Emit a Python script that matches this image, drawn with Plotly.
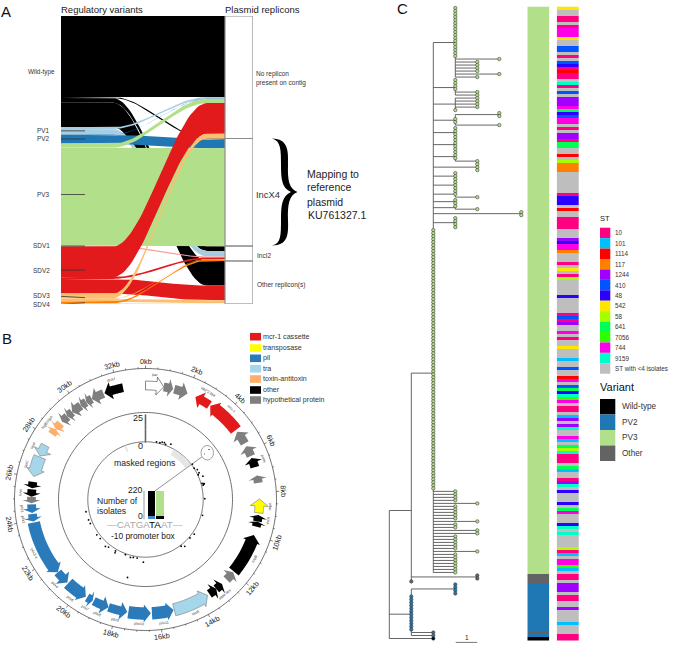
import numpy as np
import plotly.graph_objects as go

W, H = 674, 650
FONT = "Liberation Sans"

# ---------------- PANEL A data ----------------
variants = ["Wild-type", "PV1", "PV2", "PV3", "SDV1", "SDV2", "SDV3", "SDV4"]
variant_colors = ["#000000", "#A6CEE3", "#1F78B4", "#B2DF8A", "#FB9A99", "#E31A1C", "#FDBF6F", "#FF7F00"]
replicons = ["No replicon", "IncX4", "IncI2", "Other"]
flow_wild = [81.0, 1.0, 4.7, 24.5]
flow_pv1 = [1.8, 0, 5.5, 0]
flow_pv2 = [0.3, 8.7, 0, 0]
flow_pv3 = [4.0, 98.0, 0, 0]
flow_sdv1 = [0, 0, 1.0, 0]
flow_sdv2 = [30.7, 0, 1.7, 14.7]
flow_sdv3 = [4.7, 0, 0.5, 3.0]
flow_sdv4 = [0, 0, 1.5, 0.5]
flows = [flow_wild, flow_pv1, flow_pv2, flow_pv3, flow_sdv1, flow_sdv2, flow_sdv3, flow_sdv4]

# ---------------- PANEL B data ----------------
plasmid_kb = 33.3
kb_ticks = list(range(0, 33, 2))
gene_names = ["par", "", "", "PAP2-like", "mcr-1", "", "", "parA", "", "tnpA", "vsrA", "", "topB", "", "trbM-like", "",
              "taxB", "pilx11", "pilx10", "pilx9", "pilx8", "pilx7", "pilx6", "pilx4", "pilx3-4", "pilx2", "pilx1", "",
              "hha", "", "taxC", "tax4", "higB", "higA", "", "", "", "", "", "", "dnaJ"]
gene_start = [0.0, 0.85, 1.35, 2.4, 3.2, 4.95, 5.75, 6.35, 7.2, 8.3, 9.05, 9.35, 10.0, 12.0, 12.75, 13.1,
              13.6, 15.33, 16.4, 17.5, 18.4, 19.2, 19.57, 20.65, 21.3, 23.95, 24.35, 24.8,
              25.1, 25.5, 26.05, 27.05, 28.2, 28.5, 28.95, 29.3, 29.6, 30.1, 30.4, 30.7, 31.35]
gene_end = [0.85, 1.3, 2.0, 3.15, 4.85, 5.6, 6.25, 6.8, 7.55, 8.95, 9.35, 9.6, 11.95, 12.45, 13.1, 13.5,
            15.3, 16.35, 17.45, 18.4, 19.15, 19.5, 20.6, 21.3, 23.9, 24.3, 24.75, 25.1,
            25.45, 25.8, 27.0, 27.6, 28.5, 28.85, 29.3, 29.6, 30.1, 30.4, 30.7, 31.3, 32.25]
gene_dir = [1, 1, 1, -1, -1, -1, -1, -1, -1, -1, -1, -1, -1, -1, -1, -1,
            -1, -1, -1, -1, -1, -1, -1, -1, -1, -1, -1, -1,
            -1, -1, -1, -1, 1, -1, -1, -1, -1, -1, -1, -1, -1]
gene_cat = ["white", "hyp", "hyp", "mcr", "mcr", "hyp", "hyp", "other", "hyp", "trans", "other", "other", "other", "hyp", "other", "other",
            "tra", "pil", "pil", "pil", "pil", "pil", "pil", "pil", "pil", "pil", "pil", "hyp",
            "other", "other", "tra", "tra", "ta", "ta", "hyp", "hyp", "hyp", "hyp", "hyp", "hyp", "other"]
cat_color = {"white": "#FFFFFF", "hyp": "#7F7F7F", "mcr": "#E31A1C", "trans": "#FFFF00", "pil": "#2B7BBA",
             "tra": "#A6D6EA", "ta": "#FDAE6B", "other": "#000000"}
legend_b_labels = ["mcr-1 cassette", "transposase", "pil", "tra", "toxin-antitoxin", "other", "hypothetical protein"]
legend_b_colors = ["#E31A1C", "#FFFF00", "#2B7BBA", "#A6D6EA", "#FDAE6B", "#000000", "#7F7F7F"]
snp_kb = [1.0, 1.32, 1.5, 1.7, 1.85, 2.28, 4.9, 5.3, 5.55, 5.87, 6.0, 6.28, 6.85, 7.03, 6.95, 6.9, 6.92, 8.25, 9.76, 11.6,
          12.1, 12.95, 13.2, 16.83, 17.4, 17.75, 18.0, 18.5, 19.4, 19.45, 20.15, 20.4, 21.2, 21.65, 22.8, 23.15, 23.9, 17.85]
snp_count = [1, 0.8, 2, 2, 1, 3, 1, 0.2, 2, 2, 0.5, 4, 1, 1.6, 2.6, 2, 3, 1.5, 1.4, 2,
             1, 3.2, 1, 4.7, 1.4, 1.4, 2, 1, 3.5, 1.7, 2.4, 3.8, 2, 2.3, 2.3, 2.6, 2.9, 21]
zero_column = list(range(0, 26))
masked_start = [2.7, 31.3]
masked_end = [4.8, 31.5]
inset_labels = ["TA", "A"]
inset_black = [198, 25]
inset_blue = [22, 0]
inset_green = [0, 195]

# ---------------- PANEL C data ----------------
# tree: int = tip with that branch length, (length, [children]) = internal node
c1 = (1, [0]*17 + [2, 1, 1, 1, 1, 2, 1])
c2 = (1, [0, 0, 0, 0, 1, 1])
c3 = (1, [1, 1, 1, 1, 0])
c4 = (1, [(2, [0, 0]), 0, 0, 2])
c5 = (1, [0, 0, 0, 0])
c6 = (1, [0, 0, 0, 0])
c7 = (1, [0, 0, 0, 1])
c8 = (2, [0, 0, 0])
c9 = (1, [0, 0, 0])
c10 = (1, [0, 0, 0])
c11 = (1, [0, 0, 1])
c12 = (1, [0, 0])
c13 = (1, [0, 1])
c14 = (4, [0, 0])
c15 = (1, [0, 0, 0, 0])
dense_tips = [0]*87
group_tips = [1, 1, 1, 1, 2, 1, 1, 1, 1, 1, 2, 1, 1, 2, 2, 1, 1, 1, 1, 1, 2, 1, 1, 1, 1, 1, 1, 1]
big_clade = (1, [c1, c2, c3, c4, c5, c6, c7, c8, c9, c10, c11, c12, c13, c14, c15] + dense_tips + group_tips)
n1 = (1, [big_clade, (3, [0, 0]), 0])
n2 = (1, [(2, [0, 0, 0, 0])] + [0]*12 + [1, 1])
tree_root = (0, [n1, n2, 2])

variant_row_runs = [("PV3", 189), ("Other", 3), ("PV2", 16), ("Other", 1), ("PV2", 1), ("Wild-type", 1)]
variant_legend = ["Wild-type", "PV2", "PV3", "Other"]
variant_legend_colors = ["#000000", "#1F78B4", "#B2DF8A", "#636363"]

st_labels = ["10", "101", "1114", "117", "1244", "410", "48", "542", "58", "641", "7056", "744", "9159", "ST with <4 isolates"]
st_colors = ["#FF0080", "#00BFFF", "#FF0000", "#FF8000", "#9F00FF", "#0055FF", "#2A00FF", "#FFE600", "#A6FF00",
             "#00FF55", "#2BFF00", "#FF00E6", "#00FFC8", "#BEBEBE"]
o = "ST with <4 isolates"
st_runs = [("542",1),(o,2),("10",2),(o,1),("10",1),("744",3),("542",1),(o,2),("410",2),(o,1),("10",1),(o,1),
           ("410",1),("48",1),("10",1),("1114",1),("10",2),(o,1),("9159",1),("10",1),(o,1),("410",1),(o,1),
           ("1244",3),("744",1),("641",1),("48",1),("410",1),("744",2),(o,1),("10",1),(o,1),("1244",2),("10",1),
           ("641",2),(o,2),("1114",1),(o,1),("58",1),("117",3),(o,7),("10",1),("48",3),(o,1),("1114",1),(o,2),("10",4),
           (o,3),("1244",1),("48",1),("744",2),("117",1),(o,3),("10",1),(o,1),("542",1),(o,1),("10",1),("58",1),(o,5),
           ("48",1),(o,5),("10",1),("410",1),("10",1),("1244",1),(o,2),("744",1),(o,1),("10",1),(o,2),("542",1),(o,3),
           ("101",1),(o,2),("410",1),(o,2),("1114",1),("744",1),(o,1),("410",1),("641",1),("48",1),("9159",1),("7056",1),
           ("744",1),(o,1),("10",2),(o,1),("101",1),("1244",1),(o,1),("1244",1),("9159",1),(o,2),("744",1),("101",1),
           (o,1),("641",1),("58",1),("9159",1),("10",3),(o,1),("641",1),("101",1),(o,2),("10",1),("1244",1),("9159",1),
           (o,1),("48",1),(o,3),("48",1),(o,1),("641",1),("744",1),(o,3),("48",1),("9159",1),(o,1),("9159",1),(o,4),
           ("58",1),("10",1),("101",1),(o,1),("744",2),("7056",1),("101",1),(o,1),("10",2),(o,1),("1244",3),(o,1),
           ("10",2),(o,2),("1244",1),(o,4),("101",1),(o,3),("10",2)]

# ---------------- helpers ----------------
def pxx(x): return x / W
def pxy(y): return 1 - y / H

annotations, shapes = [], []
def text(x, y, s, size=6, color="#333333", anchor="left", angle=0, vanchor="middle"):
    annotations.append(dict(x=pxx(x), y=pxy(y), xref="paper", yref="paper", text=s, showarrow=False,
                            xanchor=anchor, yanchor=vanchor, textangle=angle,
                            font=dict(family=FONT, size=size, color=color), borderpad=0, borderwidth=0))
def rect(x0, y0, x1, y1, color):
    shapes.append(dict(type="rect", xref="paper", yref="paper", x0=pxx(x0), x1=pxx(x1), y0=pxy(y1), y1=pxy(y0),
                       fillcolor=color, line=dict(width=0)))

fig = go.Figure()

# ---------------- PANEL A ----------------
A_X0, A_X1, A_Y0, A_Y1 = 61, 253, 16, 303.7
a_xmax = (A_X1 - A_X0) / 164.0
a_ymax = A_Y1 - A_Y0
ax_a = dict(xaxis=dict(domain=[pxx(A_X0), pxx(A_X1)], range=[0, a_xmax], visible=False, fixedrange=True),
            yaxis=dict(domain=[pxy(A_Y1), pxy(A_Y0)], range=[a_ymax, 0], visible=False, fixedrange=True))

left_tot = [sum(f) for f in flows]
left_start = np.concatenate([[0], np.cumsum(left_tot)])
right_tot = [sum(f[j] for f in flows) for j in range(4)]
right_start = np.concatenate([[0], np.cumsum(right_tot)])

t = np.linspace(0, 1, 40)
s = 3*t**2 - 2*t**3
fx = np.concatenate([[0], 0.317 + t*(0.89-0.317), [1.0]])
fs = np.concatenate([[0], s, [1.0]])
right_pos = list(right_start[:-1])
for i, f in enumerate(flows):
    lp = left_start[i]
    for j, v in enumerate(f):
        if v <= 0:
            continue
        rp = right_pos[j]
        top = lp + (rp - lp) * fs
        bot = top + v
        fig.add_trace(go.Scatter(x=np.concatenate([fx, fx[::-1]]), y=np.concatenate([top, bot[::-1]]),
                                 mode="lines", fill="toself", fillcolor=variant_colors[i], line=dict(width=0),
                                 hoverinfo="skip", showlegend=False, xaxis="x", yaxis="y"))
        lp += v
        right_pos[j] += v

for j in range(4):
    x0, x1 = 1.0, a_xmax
    y0, y1 = right_start[j], right_start[j+1]
    fig.add_trace(go.Scatter(x=[x0, x1, x1, x0, x0], y=[y0, y0, y1, y1, y0], mode="lines", fill="toself",
                             fillcolor="#FFFFFF", line=dict(width=1.2, color="#8C8C8C"), hoverinfo="skip",
                             showlegend=False, xaxis="x", yaxis="y", cliponaxis=False))

def ax(px): return (px - A_X0) / 164.0
lab_shift = {"SDV3": -2, "SDV4": 2}
for i, nm in enumerate(variants):
    ym = left_start[i] + left_tot[i]/2
    ly = ym + lab_shift.get(nm, 0)
    if nm == "Wild-type":
        xs = [ax(55), ax(61)]
        text(54.5, A_Y0 + ym, nm, 6.4, anchor="right")
    else:
        xs = [ax(50), ax(85)]
        text(49.5, A_Y0 + ly, nm, 6.4, anchor="right")
    fig.add_trace(go.Scatter(x=xs, y=[ly, ym], mode="lines", line=dict(width=0.8, color="#333333"),
                             hoverinfo="skip", showlegend=False, xaxis="x", yaxis="y", cliponaxis=False))

text(61, 10, "Regulatory variants", 9.5, "#222222")
text(225, 9.5, "Plasmid replicons", 9.5, "#222222")
text(1, 11, "A", 15, "#111111")
text(256, 74, "No replicon", 6.5)
text(256, 83, "present on contig", 6.5)
text(256, 194, "IncX4", 9.4)
text(257, 255.5, "IncI2", 6.5)
text(257, 285, "Other replicon(s)", 6.5)
for k, line in enumerate(["Mapping to", "reference", "plasmid"]):
    text(307, 173.5 + 14*k, line, 10.5, "#222222")
text(308, 215, "KU761327.1", 10.5, "#222222")

brace = [("M", 272, 138.5), ("C", 288, 139, 288.5, 150, 288, 165), ("C", 287.5, 180, 289, 189, 297.5, 192),
         ("C", 289, 195, 287.5, 205, 288, 220), ("C", 288.5, 235, 288, 245, 272, 245.5),
         ("C", 281, 244, 281, 235, 281, 220), ("C", 281, 205, 282, 196, 291, 192),
         ("C", 282, 188, 281, 180, 281, 165), ("C", 281, 150, 281, 141, 272, 138.5)]
path = ""
for seg in brace:
    pts = seg[1:]
    path += seg[0] + " ".join(f"{pxx(pts[q]):.5f},{pxy(pts[q+1]):.5f}" for q in range(0, len(pts), 2)) + " "
shapes.append(dict(type="path", xref="paper", yref="paper", path=path + "Z", fillcolor="#000000", line=dict(width=0)))

# ---------------- PANEL B ----------------
CX, CY, RMAX = 145.5, 499.5, 136.0
polar = dict(domain=dict(x=[pxx(CX-RMAX), pxx(CX+RMAX)], y=[pxy(CY+RMAX), pxy(CY-RMAX)]),
             bgcolor="rgba(0,0,0,0)",
             radialaxis=dict(range=[0, RMAX], visible=False),
             angularaxis=dict(visible=False, direction="clockwise", rotation=90, thetaunit="degrees"))
def deg(kb): return np.asarray(kb) / plasmid_kb * 360.0
def pol(kb, r):
    a = np.radians(deg(kb))
    return CX + r*np.sin(a), CY - r*np.cos(a)
def sp(r, theta, **kw):
    fig.add_trace(go.Scatterpolar(r=r, theta=theta, subplot="polar", hoverinfo="skip", showlegend=False, **kw))

circ = np.linspace(0, 360, 361)
R_OUT, R_MID, R_IN = 131.0, 87.0, 57.7
for rad in (R_OUT, R_MID, R_IN):
    sp([rad]*361, circ, mode="lines", line=dict(color="#333333", width=0.7))

# ticks
tr, tt = [], []
for m in np.arange(0, 33.3, 0.5):
    ln = 3 if abs(m % 2) < 1e-6 else 1.5
    tr += [R_OUT, R_OUT + ln, None]
    tt += [float(deg(m)), float(deg(m)), None]
sp(tr, tt, mode="lines", line=dict(color="#333333", width=0.6))
for k in kb_ticks:
    a = float(deg(k))
    ang = a if (a < 90 or a > 270) else a - 180
    if a > 270: ang = a - 360
    x, y = pol(k, 138.5)
    text(float(x), float(y), f"{k}kb", 7.3, "#222222", anchor="center", angle=ang)

# masked regions (inner circle side)
for a0, a1 in zip(masked_start, masked_end):
    th = np.linspace(deg(a0), deg(a1), 20)
    sp(np.concatenate([[57.5]*20, [51]*20, [57.5]]), np.concatenate([th, th[::-1], th[:1]]), mode="lines",
       fill="toself", fillcolor="#E6E6E6", line=dict(width=0))

# gene arrows
for nm, g0, g1, d, cat in zip(gene_names, gene_start, gene_end, gene_dir, gene_cat):
    c = cat_color[cat]
    length = g1 - g0
    h = min(0.33, 0.5*length)
    Rm, head = 114.0, 9.0
    body = 6.2 if length > 0.9 else 4.4
    if d < 0:
        tip, base, tail = g0, g0 + h, g1
    else:
        tip, base, tail = g1, g1 - h, g0
    arc = np.linspace(base, tail, 16)
    rr = [Rm] + [Rm+head] + [Rm+body]*16 + [Rm-body]*16 + [Rm-head] + [Rm]
    kk = [tip] + [base] + list(arc) + list(arc[::-1]) + [base] + [tip]
    lc = "#555555" if cat == "white" else ("#8A8A8A" if cat in ("trans", "tra") else c)
    lw = 0.7 if cat in ("white", "trans", "tra") else 0
    sp(rr, deg(kk), mode="lines", fill="toself", fillcolor=c, line=dict(color=lc, width=lw))
    if nm:
        mid = (g0 + g1) / 2
        a = float(deg(mid))
        ang = a if a < 90 else (a - 180 if a <= 270 else a - 360)
        x, y = pol(mid, 124.5)
        text(float(x), float(y), nm, 3.8, "#444444", anchor="center", angle=ang)

# SNP points and zero column
def cnt_r(c): return R_IN + np.asarray(c, float) * (84.3 - R_IN) / 25.0
sp(cnt_r(zero_column), [0]*26, mode="lines+markers", line=dict(color="#AAAAAA", width=0.8),
   marker=dict(size=1.7, color="#666666"))
sp(cnt_r(snp_count), deg(snp_kb), mode="markers", marker=dict(size=1.8, color="#000000", line=dict(width=0)))
text(143, 418, "25", 9, "#222222", anchor="right")
text(143, 446, "0", 9, "#222222", anchor="right")
text(145, 463, "masked regions", 8.7, "#222222", anchor="center")
text(97, 500.5, "Number of", 8.6, "#222222")
text(97, 511, "isolates", 8.6, "#222222")
text(143, 536, "-10 promoter box", 8.4, "#222222", anchor="center")
g = "#A8A8A8"
text(145, 524.5, f'<span style="color:{g}">—CATGA</span><span style="color:#000000">TA</span>'
               f'<span style="color:{g}">AT—</span>', 9.8, g, anchor="center")
shapes.append(dict(type="line", xref="paper", yref="paper", x0=pxx(155.3), y0=pxy(490.7), x1=pxx(201.7), y1=pxy(457),
                   line=dict(color="#444444", width=0.6)))
shapes.append(dict(type="circle", xref="paper", yref="paper", x0=pxx(201), x1=pxx(213.5), y0=pxy(460), y1=pxy(445.5),
                   line=dict(color="#444444", width=0.5), fillcolor="#FFFFFF"))
rect(208.6, 449, 209.6, 450, "#000000")
rect(204, 453.5, 205, 454.5, "#2B7BBA")

for k, (lab, col) in enumerate(zip(legend_b_labels, legend_b_colors)):
    yy = [336.7, 348, 358.3, 368.7, 379, 390, 400][k]
    rect(250, yy-3.8, 261, yy+3.8, col)
    text(263, yy, lab, 7.1, "#333333")
text(2, 338, "B", 15, "#111111")

# inset bar chart
fig.add_trace(go.Bar(x=inset_labels, y=inset_blue, marker=dict(color="#4A86C5", line=dict(width=0)), xaxis="x2", yaxis="y2",
                     hoverinfo="skip", showlegend=False))
fig.add_trace(go.Bar(x=inset_labels, y=inset_black, marker=dict(color="#000000", line=dict(width=0)), xaxis="x2", yaxis="y2",
                     hoverinfo="skip", showlegend=False))
fig.add_trace(go.Bar(x=inset_labels, y=inset_green, marker=dict(color="#B2DF8A", line=dict(width=0)), xaxis="x2", yaxis="y2",
                     hoverinfo="skip", showlegend=False))
ax_b = dict(xaxis2=dict(domain=[pxx(147.5), pxx(164)], visible=False, fixedrange=True, type="category", anchor="y2"),
            yaxis2=dict(domain=[pxy(519.3), pxy(490.7)], range=[0, 220], anchor="x2", fixedrange=True, showgrid=False,
                        zeroline=False, tickvals=[0, 220], ticks="", showticklabels=False, showline=False))
shapes.append(dict(type="line", xref="paper", yref="paper", x0=pxx(144), x1=pxx(144), y0=pxy(490.7), y1=pxy(519.3),
                   line=dict(color="#9A9A9A", width=1)))
text(143, 490, "220", 8.6, "#222222", anchor="right")
text(143, 516, "0", 8.6, "#222222", anchor="right")

# ---------------- PANEL C ----------------
T_X0, UNIT = 389.3, 22.0
C_Y0, C_Y1 = 6.5, 640.0
ROW_PX = (C_Y1 - C_Y0) / 211.0
tx0, tx1 = 385.0, 530.0
ax_c = dict(xaxis3=dict(domain=[pxx(tx0), pxx(tx1)], range=[(tx0-T_X0)/UNIT, (tx1-T_X0)/UNIT], visible=False, fixedrange=True, anchor="y3"),
            yaxis3=dict(domain=[pxy(C_Y1 + 1.5*ROW_PX), pxy(C_Y0)], range=[212.0, -0.5], visible=False, fixedrange=True, anchor="x3"),
            xaxis4=dict(domain=[pxx(527.3), pxx(549.3)], visible=False, fixedrange=True, anchor="y3"),
            xaxis5=dict(domain=[pxx(556.7), pxx(579)], visible=False, fixedrange=True, anchor="y3"))

row_counter = [0]
lx, ly, tipx, tipy = [], [], [], []
def walk(node, x):
    if isinstance(node, (int, float)):
        xe = x + node
        y = row_counter[0]
        row_counter[0] += 1
        if node > 0:
            lx.extend([x, xe, None]); ly.extend([y, y, None])
        tipx.append(xe); tipy.append(y)
        return y
    length, kids = node
    xe = x + length
    ys = [walk(k, xe) for k in kids]
    y = float(np.mean(ys))
    lx.extend([xe, xe, None]); ly.extend([min(ys), max(ys), None])
    if length > 0:
        lx.extend([x, xe, None]); ly.extend([y, y, None])
    return y
walk(tree_root, 0)

variant_rows = [v for v, n in variant_row_runs for _ in range(n)]
st_rows = [v for v, n in st_runs for _ in range(n)]
st_rows = (st_rows + [o]*211)[:211]

fig.add_trace(go.Scatter(x=lx, y=ly, mode="lines", line=dict(color="#555555", width=0.9), xaxis="x3", yaxis="y3",
                         hoverinfo="skip", showlegend=False, cliponaxis=False))
vcolor = dict(zip(variant_legend, variant_legend_colors))
order = np.argsort(tipy)
fig.add_trace(go.Scatter(x=[tipx[i] for i in order], y=[tipy[i] for i in order], mode="markers", xaxis="x3", yaxis="y3",
                         marker=dict(size=3.4, color=[vcolor[v] for v in variant_rows],
                                     line=dict(color="#3F3F3F", width=0.6)),
                         hoverinfo="skip", showlegend=False, cliponaxis=False))
fig.add_trace(go.Scatter(x=[3.02, 4.0], y=[211.3, 211.3], mode="lines", line=dict(color="#666666", width=0.9),
                         xaxis="x3", yaxis="y3", hoverinfo="skip", showlegend=False, cliponaxis=False))
text(466.7, 637.5, "1", 6.5, "#222222", anchor="center")

def step_scale(colors):
    n = len(colors)
    cs = []
    for i, c in enumerate(colors):
        cs += [[i/n, c], [(i+1)/n, c]]
    return cs
v_idx = [variant_legend.index(v) for v in variant_rows]
s_idx = [st_labels.index(v) for v in st_rows]
fig.add_trace(go.Heatmap(z=[[v] for v in v_idx], x=[0], y=list(range(211)), zmin=-0.5, zmax=len(variant_legend)-0.5,
                         colorscale=step_scale(variant_legend_colors), showscale=False, xaxis="x4", yaxis="y3", hoverinfo="skip"))
fig.add_trace(go.Heatmap(z=[[v] for v in s_idx], x=[0], y=list(range(211)), zmin=-0.5, zmax=len(st_labels)-0.5,
                         colorscale=step_scale(st_colors), showscale=False, xaxis="x5", yaxis="y3", hoverinfo="skip"))

text(397, 9, "C", 15, "#111111")
text(600, 219, "ST", 7.5, "#222222")
for k, (lab, col) in enumerate(zip(st_labels, st_colors)):
    y0 = 227.7 + 10.43*k
    rect(600, y0, 610.3, y0+10.43, col)
    text(614.7, y0+5.2, lab, 6.3, "#333333")
text(600, 387, "Variant", 11, "#111111")
for k, (lab, col) in enumerate(zip(variant_legend, variant_legend_colors)):
    y0 = 399 + 15.5*k
    rect(600, y0, 615.3, y0+15.5, col)
    text(621.5, y0+7.7, lab, 8.2, "#333333")

fig.update_layout(width=W, height=H, autosize=False, margin=dict(l=0, r=0, t=0, b=0, pad=0),
                  paper_bgcolor="#FFFFFF", plot_bgcolor="rgba(0,0,0,0)", showlegend=False, barmode="stack",
                  bargap=0.12, polar=polar, annotations=annotations, shapes=shapes,
                  font=dict(family=FONT), **ax_a, **ax_b, **ax_c)
fig.write_html("out.html", config={"displayModeBar": False},
               post_script="document.body.style.margin='0';document.body.style.overflow='hidden';")
